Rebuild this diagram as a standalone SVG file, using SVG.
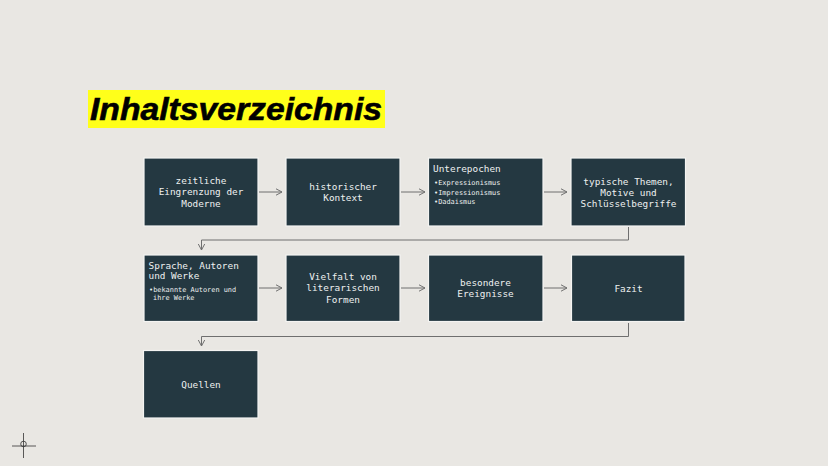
<svg xmlns="http://www.w3.org/2000/svg" width="828" height="466" viewBox="0 0 828 466">
<defs>
<marker id="ah" markerWidth="8" markerHeight="8" refX="7" refY="4" orient="auto" markerUnits="userSpaceOnUse">
<path d="M1,0.8 L7,4 L1,7.2" fill="none" stroke="#6f6f6f" stroke-width="1"/>
</marker>
<style>
.box{fill:#243841;stroke:#f4f4f2;stroke-width:1.2}
.t{font-family:"DejaVu Sans Mono","Liberation Mono",monospace;font-size:9.4px;fill:#eef0f0;text-anchor:middle}
.tl{font-family:"DejaVu Sans Mono","Liberation Mono",monospace;font-size:9.4px;fill:#eef0f0}
.b{font-family:"DejaVu Sans Mono","Liberation Mono",monospace;font-size:6.9px;fill:#eef0f0}
.c{fill:none;stroke:#6f6f6f;stroke-width:1}
</style>
</defs>
<rect width="828" height="466" fill="#e9e7e3"/>
<g id="title">
<rect x="88" y="90" width="297" height="38" fill="#ffff1a"/>
<text x="90" y="119.5" font-family="'Liberation Sans',Arial,sans-serif" font-weight="bold" font-style="italic" font-size="32" textLength="292" lengthAdjust="spacingAndGlyphs" fill="#000" stroke="#000" stroke-width="0.6">Inhaltsverzeichnis</text>
</g>
<g id="connectors">
<line class="c" x1="259" y1="192" x2="282" y2="192" marker-end="url(#ah)"/>
<line class="c" x1="401" y1="192" x2="425" y2="192" marker-end="url(#ah)"/>
<line class="c" x1="544" y1="192" x2="567" y2="192" marker-end="url(#ah)"/>
<polyline class="c" points="628.5,227 628.5,240 201.5,240 201.5,250" marker-end="url(#ah)"/>
<line class="c" x1="259" y1="288" x2="282" y2="288" marker-end="url(#ah)"/>
<line class="c" x1="401" y1="288" x2="425" y2="288" marker-end="url(#ah)"/>
<line class="c" x1="544" y1="288" x2="567" y2="288" marker-end="url(#ah)"/>
<polyline class="c" points="628.5,323 628.5,336.5 201.5,336.5 201.5,346" marker-end="url(#ah)"/>
</g>
<g id="n1">
<rect class="box" x="144" y="158" width="114" height="68"/>
<text class="t" x="201" y="184">zeitliche</text>
<text class="t" x="201" y="195.3">Eingrenzung der</text>
<text class="t" x="201" y="206.6">Moderne</text>
</g>
<g id="n2">
<rect class="box" x="286" y="158" width="114" height="68"/>
<text class="t" x="343" y="189.5">historischer</text>
<text class="t" x="343" y="200.8">Kontext</text>
</g>
<g id="n3">
<rect class="box" x="428.5" y="158" width="114.5" height="68"/>
<text class="tl" x="433" y="171.5">Unterepochen</text>
<text class="b" x="434" y="185">•Expressionismus</text>
<text class="b" x="434" y="194.6">•Impressionismus</text>
<text class="b" x="434" y="204.2">•Dadaismus</text>
</g>
<g id="n4">
<rect class="box" x="571" y="158" width="114.5" height="68"/>
<text class="t" x="628.5" y="185">typische Themen,</text>
<text class="t" x="628.5" y="196">Motive und</text>
<text class="t" x="628.5" y="207">Schlüsselbegriffe</text>
</g>
<g id="n5">
<rect class="box" x="144" y="255" width="114" height="66.5"/>
<text class="tl" x="148.5" y="268.5">Sprache, Autoren</text>
<text class="tl" x="148.5" y="279">und Werke</text>
<text class="b" x="149" y="292.3">•bekannte Autoren und</text>
<text class="b" x="153" y="300.3">ihre Werke</text>
</g>
<g id="n6">
<rect class="box" x="286" y="255" width="114" height="66.5"/>
<text class="t" x="343" y="280">Vielfalt von</text>
<text class="t" x="343" y="291.3">literarischen</text>
<text class="t" x="343" y="302.6">Formen</text>
</g>
<g id="n7">
<rect class="box" x="428.5" y="255" width="114.5" height="66.5"/>
<text class="t" x="485.5" y="286">besondere</text>
<text class="t" x="485.5" y="297">Ereignisse</text>
</g>
<g id="n8">
<rect class="box" x="571.5" y="255" width="113.5" height="66.5"/>
<text class="t" x="628.5" y="291.5">Fazit</text>
</g>
<g id="n9">
<rect class="box" x="143.5" y="350.5" width="114.5" height="67.5"/>
<text class="t" x="201" y="387.5">Quellen</text>
</g>
<g id="crosshair" stroke="#333" stroke-width="0.8" fill="none">
<line x1="23.5" y1="433" x2="23.5" y2="458"/>
<line x1="12" y1="446" x2="36" y2="446"/>
<circle cx="23.5" cy="444" r="2.8"/>
</g>
</svg>
